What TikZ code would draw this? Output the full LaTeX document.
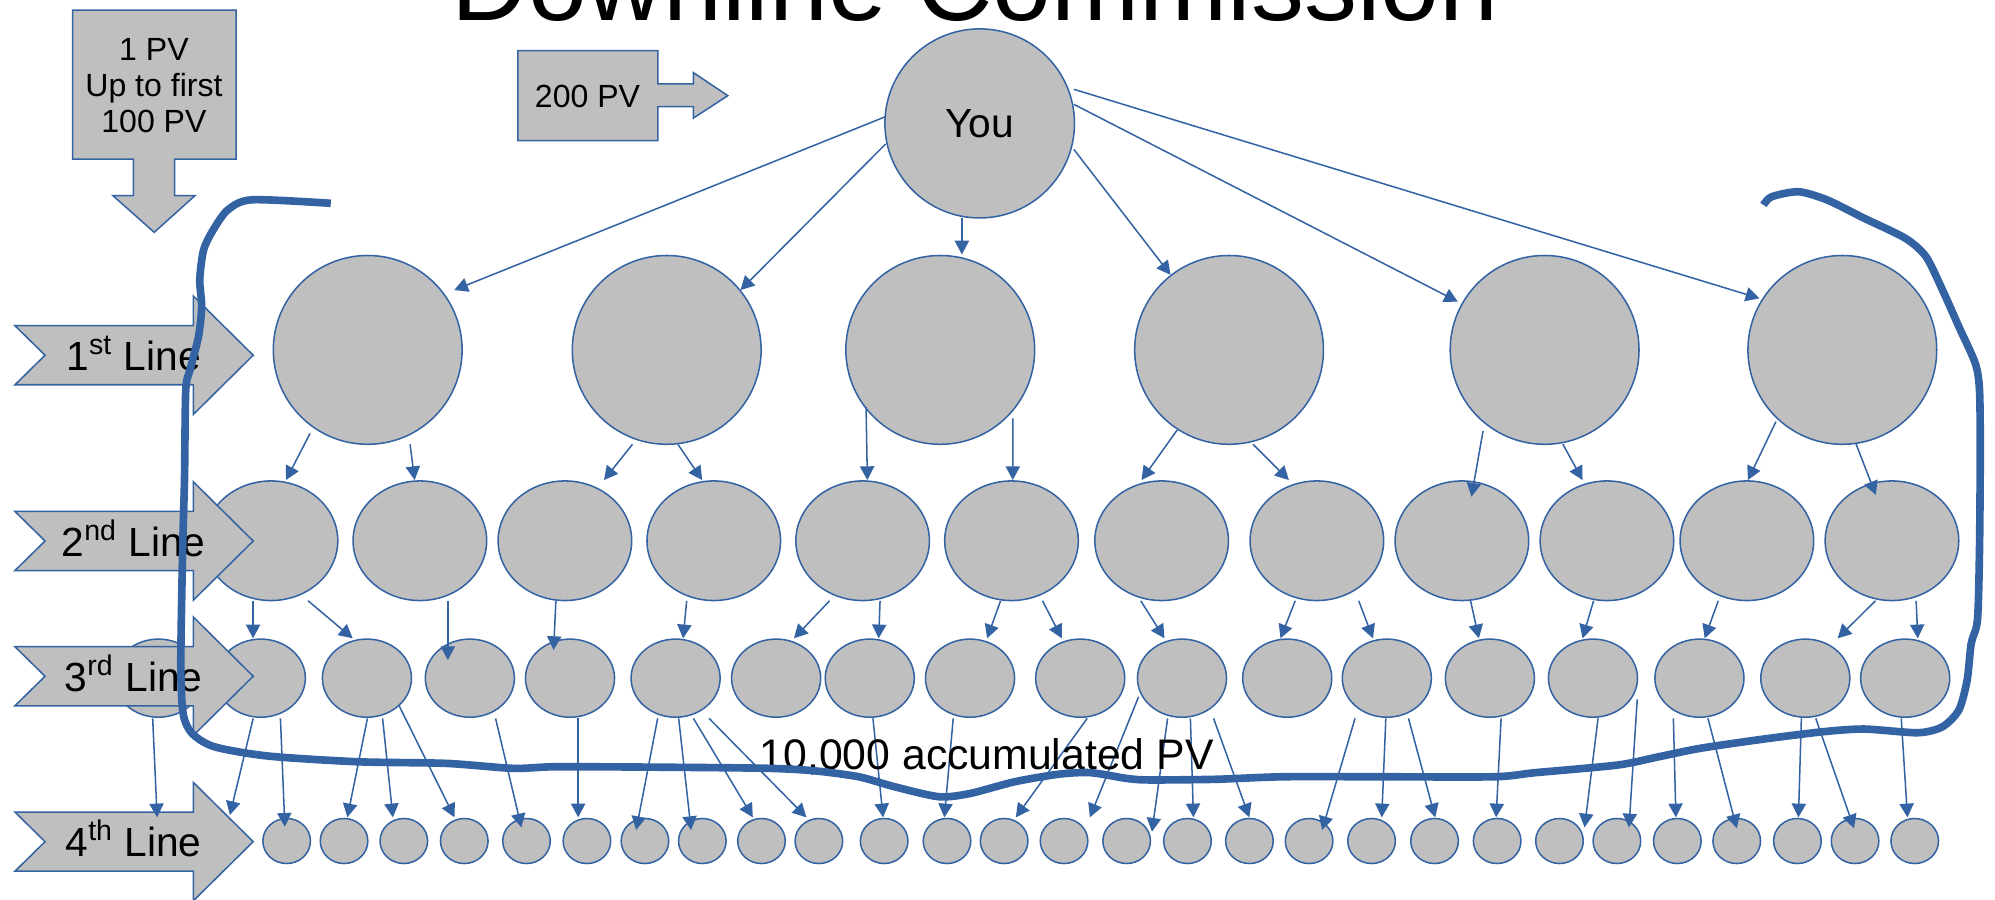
\documentclass[tikz,border=0pt]{standalone}
\usepackage{fontspec}
\setmainfont{Liberation Sans}
\usetikzlibrary{arrows.meta,calc,shapes.geometric}
\definecolor{ol}{RGB}{52,99,163}
\definecolor{fl}{RGB}{191,191,191}
\newcommand\lnk[4]{\draw[conn] ($(#1)+#2$) -- ($(#3)+#4$);}
\newcommand\lblshape[1]{%
  \begin{scope}[shift={(0,#1)}]
    \draw[shp] (11.8,-23.2) -- (152,-23.2) -- (152,-46.5) -- (199,0) -- (152,46.5) -- (152,23.2) -- (11.8,23.2) -- (35.4,0) -- cycle;
  \end{scope}}
\begin{document}
\begin{tikzpicture}[x=0.5pt,y=-0.5pt,
  bub/.style={ellipse,draw=ol,fill=fl,line width=0.6pt,inner sep=0pt,outer sep=0pt},
  you/.style={bub,minimum width=74.5pt,minimum height=74.3pt},
  r1/.style={bub,minimum width=74.2pt,minimum height=74.2pt},
  r2/.style={bub,minimum width=52.5pt,minimum height=47pt},
  r3/.style={bub,minimum width=35pt,minimum height=30.7pt},
  r4/.style={bub,minimum width=18.7pt,minimum height=17.7pt},
  conn/.style={draw=ol,line width=0.6pt,-{Triangle[length=5.4pt,width=5.6pt]}},
  shp/.style={draw=ol,fill=fl,line width=0.6pt,line join=miter},
  big/.style={font=\fontsize{16}{19}\selectfont},
  small/.style={font=\fontsize{12.6}{14.27}\selectfont}]
\useasboundingbox (0,0) rectangle (1568,706.6);

% title (cut off at the top, as in the reference)
\node[font=\fontsize{41.6}{50}\selectfont,anchor=base] (title) at (766.5,16.5) {Downline Commission};

% top left down arrow
\draw[shp] (57.1,7.9) -- (185.6,7.9) -- (185.6,125) -- (137.2,125) -- (137.2,153.8) -- (153.2,153.8) -- (121.2,182.6) -- (88.8,153.8) -- (104.8,153.8) -- (104.8,125) -- (57.1,125) -- cycle;
\node[small,align=center] (pv1) at (121,67.2) {1 PV\\Up to first\\100 PV};

% 200 PV arrow
\draw[shp] (407,39.8) -- (517,39.8) -- (517,66) -- (545,66) -- (545,57.1) -- (572,75.2) -- (545,92.8) -- (545,83.8) -- (517,83.8) -- (517,110.6) -- (407,110.6) -- cycle;
\node[small,anchor=base] (pv200) at (461.8,84.4) {200 PV};

% nodes
\node[you,big] (you) at (770,97) {You};
\foreach \x [count=\i] in {289,524,739,966,1214,1448}
  \node[r1] (A\i) at (\x,275) {};
\foreach \x [count=\i] in {213,330,444,561,678,795,913,1035,1149,1263,1373,1487}
  \node[r2] (B\i) at (\x,425) {};
\foreach \x [count=\i] in {124.5,205,288.4,369.3,448,531,610,683.6,762.4,849,929,1011.7,1090,1171,1252,1335.7,1418.9,1497.4}
  \node[r3] (C\i) at (\x,533) {};
\foreach \x [count=\i] in {225.3,270.4,317.4,364.9,413.8,461.3,506.9,552,598.5,643.6,694.9,744.3,789.2,836.3,885.5,933.3,982,1028.9,1078,1127.5,1176.7,1225.7,1270.8,1318.3,1365,1412.7,1458,1504.9}
  \node[r4] (D\i) at (\x,661) {};

% line labels
\lblshape{279.2}
\node[big,anchor=base] (l1) at (105,291.2) {1\textsuperscript{st} Line};
\lblshape{425.2}
\node[big,anchor=base] (l2) at (105,437.2) {2\textsuperscript{nd} Line};
\lblshape{531.5}
\node[big,anchor=base] (l3) at (105,543.5) {3\textsuperscript{rd} Line};
\lblshape{661.5}
\node[big,anchor=base] (l4) at (105,673.5) {4\textsuperscript{th} Line};

\coordinate (h1) at (123.5,642.4);
\coordinate (h2) at (180.7,640.6);

% You -> 1st line
\lnk{you}{(-74,-5.3)}{A1}{(68,-47)}
\lnk{you}{(-74,16.2)}{A2}{(58,-47)}
\lnk{you}{(-14,74)}{A3}{(17,-75)}
\lnk{you}{(74,20.4)}{A4}{(-46,-59)}
\lnk{you}{(74,-15)}{A5}{(-68.2,-37.9)}
\lnk{you}{(74,-26.8)}{A6}{(-65.2,-40.5)}

% 1st -> 2nd
\lnk{A1}{(-45.3,65.6)}{B1}{(11.8,-47.7)}
\lnk{A1}{(33.3,74.2)}{B2}{(-4.1,-47.7)}
\lnk{A2}{(-26.9,74.2)}{B3}{(30.7,-47.7)}
\lnk{A2}{(8.8,74.2)}{B4}{(-9.1,-47.7)}
\lnk{A3}{(-58.3,45)}{B5}{(3.7,-47.7)}
\lnk{A3}{(57.1,53.8)}{B6}{(1,-47.7)}
\lnk{A4}{(-40.8,63)}{B7}{(-15.8,-47.7)}
\lnk{A4}{(18.9,74.2)}{B8}{(-22,-47.7)}
\lnk{A5}{(-48.4,63.8)}{B9}{(7.5,-34.6)}
\lnk{A5}{(14.3,74)}{B10}{(-19.2,-47.7)}
\lnk{A6}{(-52.2,56.4)}{B11}{(0.8,-47.7)}
\lnk{A6}{(10.8,74)}{B12}{(-12.7,-36)}

% 2nd -> 3rd
\lnk{B1}{(-14.1,47.2)}{C2}{(-6.1,-31.3)}
\lnk{B1}{(29.1,47.2)}{C3}{(-11.2,-31.3)}
\lnk{B2}{(22,47.2)}{C4}{(-17.3,-14.2)}
\lnk{B3}{(-7.1,47.2)}{C5}{(-12.9,-22.1)}
\lnk{B4}{(-21.3,47.2)}{C6}{(5.9,-31.3)}
\lnk{B5}{(-26,47.2)}{C7}{(14,-31.3)}
\lnk{B5}{(13.7,47.2)}{C8}{(7,-31.3)}
\lnk{B6}{(-8.6,47.2)}{C9}{(13.4,-31.3)}
\lnk{B6}{(24.4,47.2)}{C10}{(-14.5,-31.3)}
\lnk{B7}{(-16.4,47.2)}{C11}{(-13.8,-31.3)}
\lnk{B8}{(-17,47.2)}{C12}{(-5.3,-31.3)}
\lnk{B8}{(32.9,47.2)}{C13}{(-10.9,-31.3)}
\lnk{B9}{(6.8,47.2)}{C14}{(-8.7,-31.3)}
\lnk{B10}{(-10.5,47.2)}{C15}{(-8.2,-31.3)}
\lnk{B11}{(-22.5,47.2)}{C16}{(4.1,-31.3)}
\lnk{B12}{(-13,47.2)}{C17}{(25.4,-31.3)}
\lnk{B12}{(19,47.2)}{C18}{(9.9,-31.3)}

% 3rd -> 4th
\lnk{C1}{(-4.5,31.6)}{h1}{(0,0)}
\lnk{C2}{(-6,31.6)}{h2}{(0,0)}
\lnk{C2}{(15.4,31.6)}{D1}{(-1.4,-11.2)}
\lnk{C3}{(0.4,31.6)}{D2}{(2.6,-18.6)}
\lnk{C3}{(12.3,31.6)}{D3}{(-8.6,-18.6)}
\lnk{C3}{(25,21.1)}{D4}{(-7.7,-18.6)}
\lnk{C4}{(20.2,31.6)}{D5}{(-4,-10.7)}
\lnk{C5}{(6.4,31.6)}{D6}{(-6.9,-18.6)}
\lnk{C6}{(-14.1,31.6)}{D7}{(-6.9,-8.6)}
\lnk{C6}{(2.4,31.6)}{D8}{(-8.8,-8.6)}
\lnk{C6}{(14,31.6)}{D9}{(-6.8,-18.6)}
\lnk{C6}{(26.3,31.6)}{D10}{(-9.8,-18.6)}
\lnk{C8}{(2.5,31.6)}{D11}{(-0.8,-18.6)}
\lnk{C9}{(-13.2,31.6)}{D12}{(-2.1,-18.6)}
\lnk{C10}{(5.5,31.6)}{D13}{(9.2,-18.6)}
\lnk{C11}{(-34.1,14.6)}{D14}{(20.3,-18.6)}
\lnk{C11}{(-11.3,31.6)}{D15}{(19.9,-7.3)}
\lnk{C11}{(6.6,31.6)}{D16}{(4.7,-18.6)}
\lnk{C11}{(24.8,31.6)}{D17}{(-0.1,-18.6)}
\lnk{C13}{(-25,31.6)}{D18}{(10.2,-8.6)}
\lnk{C13}{(-0.8,31.6)}{D19}{(8,-18.6)}
\lnk{C13}{(17,31.6)}{D20}{(0.5,-18.6)}
\lnk{C14}{(8.8,31.6)}{D21}{(-0.8,-18.6)}
\lnk{C15}{(4,31.6)}{D22}{(19.7,-10.7)}
\lnk{C15}{(34.8,16.7)}{D23}{(9.5,-10.7)}
\lnk{C16}{(-20.5,31.6)}{D24}{(-1.1,-18.6)}
\lnk{C16}{(6.7,31.6)}{D25}{(0,-10)}
\lnk{C17}{(-3.1,31.6)}{D26}{(0.8,-18.6)}
\lnk{C17}{(8.2,31.6)}{D27}{(-0.8,-10)}
\lnk{C18}{(-3.1,31.6)}{D28}{(-5.7,-18.6)}

% text
\node[font=\fontsize{16.8}{20}\selectfont,anchor=base] (acc) at (775.5,604.7) {10,000 accumulated PV};

% hand-drawn boundary
\draw[ol,line width=3pt] plot[smooth,tension=0.45] coordinates {
(260,159.8) (198,157) (179,165) (167.5,180.8) (160,196.5) (157,220) (158.5,241) (156,264.6) (149.3,290.8) (146,306.5) (145,377) (143.6,429.7) (142.1,521.4) (143.9,560.7) (150.9,576.4) (168.4,586.9) (210.5,594.2) (280.8,598.7) (350.9,600) (403.5,603.9) (438.6,602.6) (534.5,603.1) (604.7,603.9) (639.8,605.8) (674.9,610.5) (702.9,618.3) (738,626.2) (762.6,623.6) (797.6,614.4) (832.8,608.4) (857.3,607.3) (885.4,611.8) (903,613) (955.5,612.5) (1008.2,610.5) (1084.7,610.5) (1174.3,610.5) (1206.6,607.3) (1271.3,601.3) (1303.6,594.8) (1336,588.2) (1384.5,581.1) (1432.9,575.1) (1465.3,573) (1507.3,575.9) (1526.7,571.2) (1539.6,558) (1546.1,534.5) (1549.3,505.6) (1554.2,487.3) (1555.8,432.3) (1556.4,353.7) (1555.8,306.5) (1552.5,285.6) (1539.6,256.8) (1526.7,227.9) (1513.8,201.8) (1497.6,187.3) (1465.3,171.6) (1436.2,157.2) (1413.6,150.7) (1392.5,154.6) (1386,161.1)};
\end{tikzpicture}
\end{document}
